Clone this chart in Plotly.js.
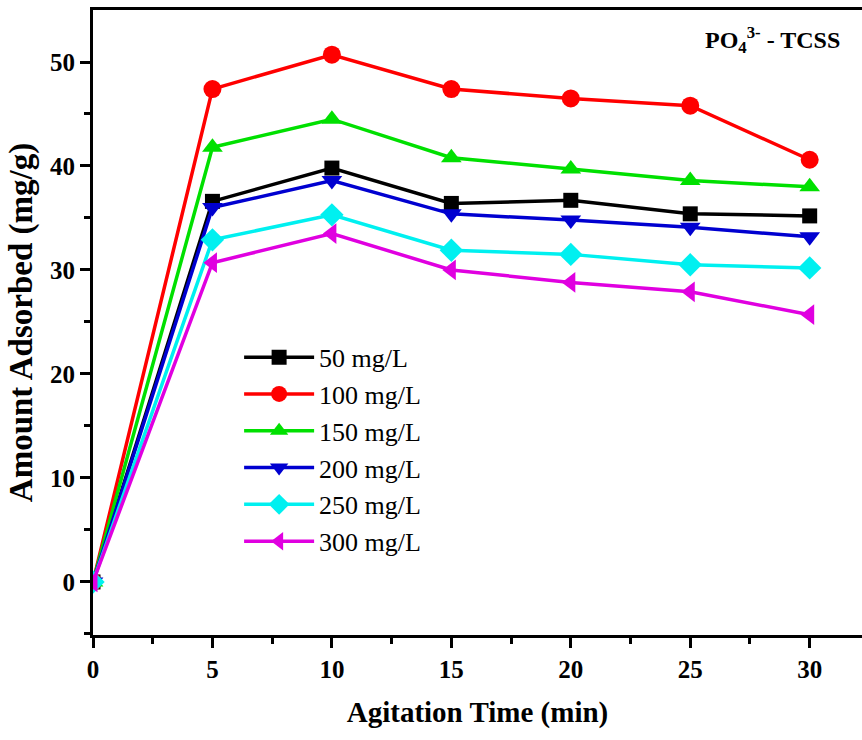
<!DOCTYPE html>
<html>
<head>
<meta charset="utf-8">
<script src="https://cdn.plot.ly/plotly-3.0.1.min.js"></script>
<style>html,body{margin:0;padding:0;background:#fff;}#chart{width:862px;height:740px;}</style>
</head>
<body>
<div id="chart"></div>
<script>
const time = [0, 5, 10, 15, 20, 25, 30];
const names = ["50 mg/L", "100 mg/L", "150 mg/L", "200 mg/L", "250 mg/L", "300 mg/L"];
const s50  = [0, 36.6, 39.8, 36.4, 36.7, 35.4, 35.2];
const s100 = [0, 47.4, 50.7, 47.4, 46.5, 45.8, 40.6];
const s150 = [0, 41.8, 44.5, 40.8, 39.7, 38.6, 38.0];
const s200 = [0, 36.0, 38.6, 35.4, 34.8, 34.1, 33.2];
const s250 = [0, 32.9, 35.3, 31.9, 31.5, 30.5, 30.2];
const s300 = [0, 30.7, 33.5, 30.0, 28.8, 27.9, 25.7];
const series = [s50, s100, s150, s200, s250, s300];
const colors = ["#000000", "#ff0000", "#00e000", "#0000d0", "#00f0f0", "#e000e0"];
const symbols = ["square", "circle", "triangle-up", "triangle-down", "diamond", "triangle-left"];
const sizes = [15, 18, 18, 18, 18, 18];

const font = "'Liberation Serif', 'Times New Roman', serif";
const traces = series.map((ys, i) => ({
  x: time, y: ys, name: names[i], type: "scatter", mode: "lines+markers",
  line: {color: colors[i], width: 3.5},
  marker: {symbol: symbols[i], size: sizes[i], color: colors[i]}
}));

const layout = {
  width: 862, height: 740,
  margin: {l: 93, r: 0, t: 10, b: 105},
  paper_bgcolor: "#fff", plot_bgcolor: "#fff",
  font: {family: font, color: "#000"},
  showlegend: true,
  legend: {x: 0.19, y: 0.482, xanchor: "left", yanchor: "top", bgcolor: "rgba(0,0,0,0)",
           font: {family: font, size: 26, color: "#000"}, tracegroupgap: 0, itemwidth: 70},
  xaxis: {
    range: [0, 32.19], showgrid: false, zeroline: false,
    showline: true, linecolor: "#000", linewidth: 3, mirror: true,
    ticks: "outside", ticklen: 10, tickwidth: 3, tickcolor: "#000",
    tickvals: [0, 5, 10, 15, 20, 25, 30],
    tickfont: {family: font, size: 25, weight: "bold"},
    minor: {tickvals: [2.5, 7.5, 12.5, 17.5, 22.5, 27.5], ticks: "outside", ticklen: 6, tickwidth: 3, tickcolor: "#000"},
    title: {text: "<b>Agitation Time (min)</b>", font: {family: font, size: 29}, standoff: 20}
  },
  yaxis: {
    range: [-5.1, 55.0], showgrid: false, zeroline: false,
    showline: true, linecolor: "#000", linewidth: 3,
    ticks: "outside", ticklen: 10, tickwidth: 3, tickcolor: "#000",
    tickvals: [0, 10, 20, 30, 40, 50],
    tickfont: {family: font, size: 25, weight: "bold"},
    minor: {tickvals: [-5, 5, 15, 25, 35, 45], ticks: "outside", ticklen: 6, tickwidth: 3, tickcolor: "#000"},
    title: {text: "<b>Amount Adsorbed (mg/g)</b>", font: {family: font, size: 33}, standoff: 8}
  },
  annotations: [{
    xref: "paper", yref: "paper", x: 0.974, y: 0.952, xanchor: "right", yanchor: "middle",
    text: "<b>PO<sub>4</sub><sup>3-</sup> - TCSS</b>", showarrow: false,
    font: {family: font, size: 24, color: "#000"}
  }]
};

Plotly.newPlot("chart", traces, layout, {displayModeBar: false, staticPlot: true});
</script>
</body>
</html>
